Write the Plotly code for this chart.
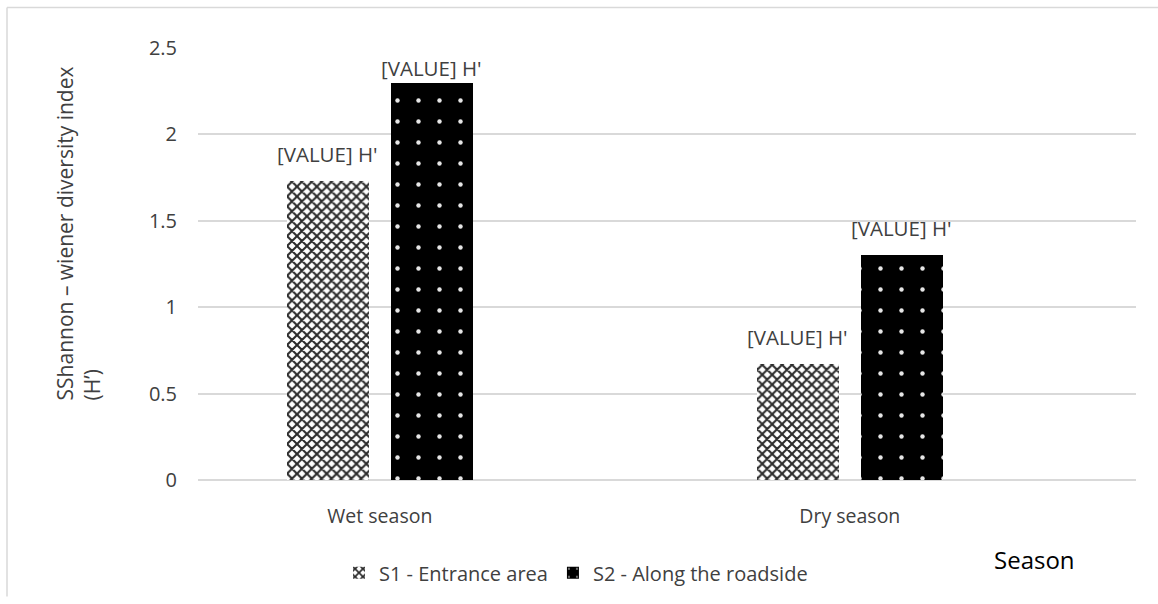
import plotly.graph_objects as go

categories = ["Wet season", "Dry season"]
s1_name = "S1 - Entrance area"
s2_name = "S2 - Along the roadside"
s1_values = [1.73, 0.67]
s2_values = [2.30, 1.30]
label_text = "[VALUE] H'"
y_title = "SShannon – wiener diversity index<br>(H’)"
x_title = "Season"
y_ticks = [0, 0.5, 1, 1.5, 2, 2.5]
y_ticklabels = ["0", "0.5", "1", "1.5", "2", "2.5"]

cat_pos = list(range(len(categories)))
bar_w = 0.175
off1 = -0.198
off2 = 0.023
Y_MAX = 2.5

FONT = "Open Sans"
TXT = "#404040"

W, H = 1158, 604
L, T = 198, 48
R = W - 1136
B = H - 486
pw, ph = W - L - R, H - T - B


def px(x_ref):
    return (x_ref - L) / pw


def py(y_ref):
    return (H - B - y_ref) / ph


fig = go.Figure()
fig.add_trace(go.Bar(
    x=cat_pos, y=s1_values, name=s1_name, width=bar_w, offset=off1,
    marker=dict(color="white", line=dict(width=0),
                pattern=dict(shape="x", fgcolor="#2a2a2a", bgcolor="white",
                             size=7, solidity=0.5, fillmode="replace")),
))
fig.add_trace(go.Bar(
    x=cat_pos, y=s2_values, name=s2_name, width=bar_w, offset=off2,
    marker=dict(color="black", line=dict(width=0),
                pattern=dict(shape=".", fgcolor="#e6e6e6", bgcolor="black",
                             size=21, solidity=0.035, fillmode="replace")),
))

LABEL_H = 27
annotations = []
for offs, vals in ((off1, s1_values), (off2, s2_values)):
    for i, v in enumerate(vals):
        bar_top_px = T + (1 - v / Y_MAX) * ph
        shift = min(11, bar_top_px - 57 - LABEL_H)
        annotations.append(dict(x=cat_pos[i] + offs + bar_w / 2, y=v, xref="x", yref="y",
                                text=label_text, showarrow=False, yanchor="bottom",
                                xanchor="center",
                                yshift=shift, font=dict(family=FONT, size=20.5, color=TXT)))
annotations.append(dict(x=px(1034), y=py(567), xref="paper", yref="paper", text=x_title,
                        xanchor="center", yanchor="middle",
                        showarrow=False, font=dict(family=FONT, size=24, color="black")))
annotations.append(dict(x=px(78), y=py(236), xref="paper", yref="paper", text=y_title,
                        textangle=-90, align="left", xanchor="center", yanchor="middle",
                        showarrow=False, font=dict(family=FONT, size=21, color=TXT)))

fig.update_layout(
    width=W, height=H,
    margin=dict(l=L, r=R, t=T, b=B),
    paper_bgcolor="white", plot_bgcolor="white",
    font=dict(family=FONT, color=TXT),
    bargap=0, showlegend=True,
    legend=dict(orientation="h", x=px(576), xanchor="center", y=py(580), yanchor="middle",
                font=dict(family=FONT, size=20, color=TXT), itemwidth=30,
                traceorder="normal"),
    xaxis=dict(range=[-0.387, 1.609], tickmode="array", tickvals=cat_pos,
               ticktext=categories, showgrid=False, zeroline=False,
               showline=False, ticks="", ticklabelstandoff=22,
               tickfont=dict(family=FONT, size=19.5, color=TXT)),
    yaxis=dict(range=[0, Y_MAX], tickmode="array", tickvals=y_ticks, ticktext=y_ticklabels,
               showgrid=True, gridcolor="#d9d9d9", gridwidth=1.5, zeroline=True,
               zerolinecolor="#d9d9d9", zerolinewidth=1.5, showline=False, ticks="",
               ticklabelstandoff=20,
               tickfont=dict(family=FONT, size=20, color=TXT)),
    annotations=annotations,
    shapes=[
        dict(type="line", xref="paper", yref="paper", x0=px(7), x1=px(1158), y0=py(7), y1=py(7),
             line=dict(color="#d9d9d9", width=1.5)),
        dict(type="line", xref="paper", yref="paper", x0=px(7), x1=px(7), y0=py(7), y1=py(604),
             line=dict(color="#d9d9d9", width=1.5)),
    ],
)

fig.write_html(
    "out.html",
    config={"displayModeBar": False},
    post_script="document.body.style.margin='0px';document.body.style.overflow='hidden';",
)
